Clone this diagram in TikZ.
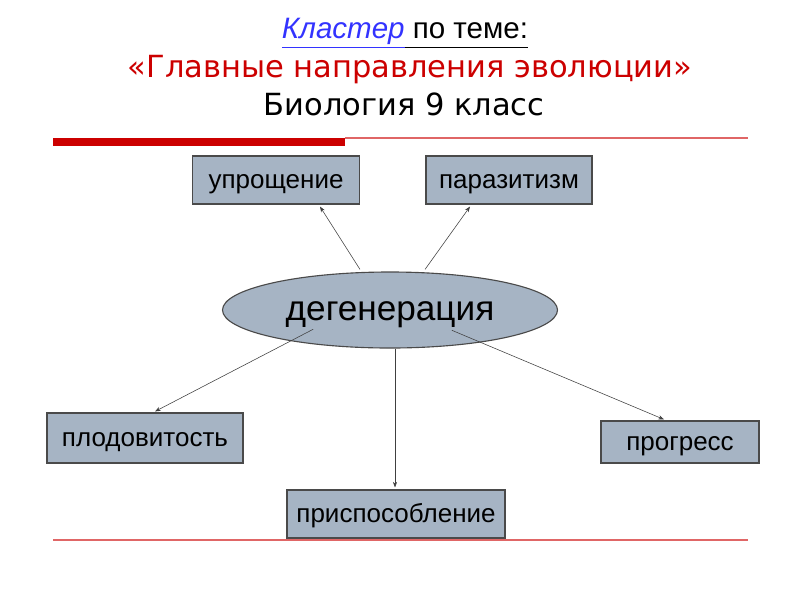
\documentclass[tikz,border=0pt]{standalone}
\usepackage{fontspec}
\usepackage{xcolor}
\setmainfont{Liberation Sans}
\newfontfamily\titlefont{DejaVu Sans}
\usetikzlibrary{arrows.meta, positioning, calc, shapes}

\definecolor{boxfill}{HTML}{A6B4C4}
\definecolor{boxline}{HTML}{4A4A4A}
\definecolor{barred}{HTML}{CC0000}
\definecolor{linkblue}{HTML}{3333FF}

\begin{document}
\begin{tikzpicture}[x=0.025cm, y=-0.025cm,
		term/.style={draw=boxline, fill=boxfill, line width=0.8pt, inner sep=0pt, text height=12pt, text depth=0pt,
			font=\fontsize{18.5}{20}\selectfont},
		link/.style={-{Stealth[length=4pt, width=3pt]}, draw=black!75, line width=0.4pt}]
		\useasboundingbox (0,0) rectangle (800,600);
		
		% Title
		\node (title1) at (405,33) {\fontsize{21}{24}\selectfont\textcolor{linkblue}{\underline{\textit{Кластер}}}\underline{ по теме:\vphantom{р}}};
		\node[barred] (title2) at (410,70) {\titlefont\fontsize{21.7}{24}\selectfont «Главные направления эволюции»};
		\node (title3) at (404,104) {\titlefont\fontsize{21.7}{24}\selectfont Биология 9 класс};
		
		% Rules
		\fill[barred] (53,138) rectangle (345,146);
		\draw[barred!60, line width=0.8pt] (345,138) -- (748,138);
		\draw[barred!60, line width=0.8pt] (53,540) -- (748,540);
		
		% Centre
		\node[ellipse, draw=boxline, fill=boxfill, line width=0.8pt, minimum width=335*0.025cm, minimum height=76*0.025cm,
		text height=15pt, text depth=0pt, font=\fontsize{25}{28}\selectfont] (deg) at (390,310) {дегенерация};
		
		% Terms
		\node[term, minimum width=167*0.025cm, minimum height=48*0.025cm] (upr) at (276,180) {упрощение};
		\node[term, minimum width=166*0.025cm, minimum height=48*0.025cm] (par) at (509,180) {паразитизм};
		\node[term, minimum width=196*0.025cm, minimum height=50*0.025cm] (plod) at (145,438) {плодовитость};
		\node[term, minimum width=158*0.025cm, minimum height=42*0.025cm] (prog) at (680,442) {прогресс};
		\node[term, minimum width=218*0.025cm, minimum height=48*0.025cm] (prisp) at (396,514) {приспособление};
		
		% Arrows
		\draw[link] (deg.north) ++(-30,-2) coordinate (d1) -- ($(upr.south)+(44,2)$);
		\draw[link] (deg.north) ++(35,-2) coordinate (d2) -- ($(par.south)+(-39,2)$);
		\draw[link] (deg.south west) ++(42,-8) coordinate (d3) -- ($(plod.north)+(10,-1)$);
		\draw[link] (deg.south) ++(5,0) coordinate (d4) -- ($(prisp.north)+(-1,-2)$);
		\draw[link] (deg.south east) ++(-57,-7) coordinate (d5) -- ($(prog.north)+(-16,-1)$);
	\end{tikzpicture}
\end{document}
